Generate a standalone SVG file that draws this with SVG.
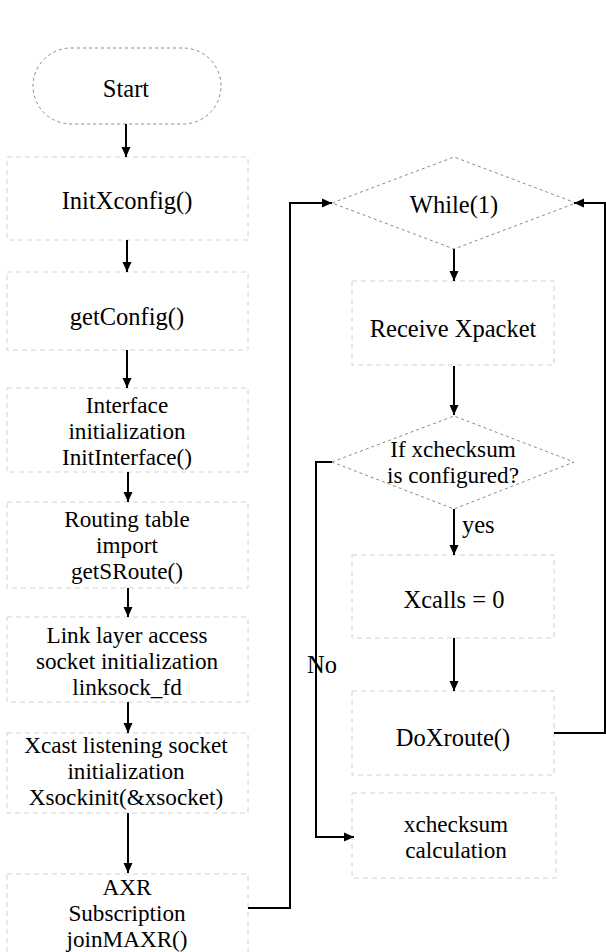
<svg xmlns="http://www.w3.org/2000/svg" width="606" height="952" viewBox="0 0 606 952">
<style>
  text { font-family: "Liberation Serif", "Times New Roman", serif; font-size: 23.2px; fill: #000; text-anchor: middle; }
  .single { font-size: 24.5px; }
  .box { fill: none; stroke: #d2d2d2; stroke-width: 1; stroke-dasharray: 5 4; }
  .dia { fill: none; stroke: #8a8a8a; stroke-width: 1; stroke-dasharray: 3 3; }
  .edge { fill: none; stroke: #000; stroke-width: 2; }
</style>
<defs>
  <marker id="arr" viewBox="0 0 10 10" refX="10" refY="5" markerUnits="userSpaceOnUse" markerWidth="12" markerHeight="10" orient="auto">
    <path d="M0,0.5 L10,5 L0,9.5 z" fill="#000"/>
  </marker>
</defs>
<rect width="606" height="952" fill="#fff"/>

<g id="start">
  <rect x="33" y="48" width="188" height="76" rx="38" ry="38" class="dia"/>
  <text x="126" y="97" class="single">Start</text>
</g>
<g id="initxconfig">
  <rect x="7" y="157" width="241" height="83" class="box"/>
  <text x="127" y="209" class="single">InitXconfig()</text>
</g>
<g id="getconfig">
  <rect x="7" y="272" width="241" height="78" class="box"/>
  <text x="127" y="325" class="single">getConfig()</text>
</g>
<g id="interface">
  <rect x="7" y="388" width="241" height="84" class="box"/>
  <text x="127" y="413">Interface</text>
  <text x="127" y="439">initialization</text>
  <text x="127" y="465">InitInterface()</text>
</g>
<g id="routing">
  <rect x="7" y="502" width="241" height="86" class="box"/>
  <text x="127" y="527">Routing table</text>
  <text x="127" y="553">import</text>
  <text x="127" y="579">getSRoute()</text>
</g>
<g id="linklayer">
  <rect x="7" y="617" width="241" height="85" class="box"/>
  <text x="127" y="643">Link layer access</text>
  <text x="127" y="669">socket initialization</text>
  <text x="127" y="695">linksock_fd</text>
</g>
<g id="xcast">
  <rect x="7" y="733" width="241" height="80" class="box"/>
  <text x="126" y="753">Xcast listening socket</text>
  <text x="126" y="779">initialization</text>
  <text x="126" y="805">Xsockinit(&amp;xsocket)</text>
</g>
<g id="axr">
  <rect x="7" y="874" width="241" height="86" class="box"/>
  <text x="127" y="895">AXR</text>
  <text x="127" y="921">Subscription</text>
  <text x="127" y="947">joinMAXR()</text>
</g>

<g id="while">
  <polygon points="332,203 454,157 576,203 454,249" class="dia"/>
  <text x="454" y="213" class="single">While(1)</text>
</g>
<g id="receive">
  <rect x="352" y="281" width="202" height="84" class="box"/>
  <text x="453" y="337" class="single">Receive Xpacket</text>
</g>
<g id="ifcheck">
  <polygon points="332,462 454,416 574,462 454,509" class="dia"/>
  <text x="453" y="457">If xchecksum</text>
  <text x="453" y="483">is configured?</text>
</g>
<g id="xcalls">
  <rect x="352" y="555" width="202" height="83" class="box"/>
  <text x="454" y="608" class="single">Xcalls = 0</text>
</g>
<g id="doxroute">
  <rect x="352" y="691" width="202" height="84" class="box"/>
  <text x="453" y="746" class="single">DoXroute()</text>
</g>
<g id="checksumcalc">
  <rect x="352" y="793" width="204" height="85" class="box"/>
  <text x="456" y="832">xchecksum</text>
  <text x="456" y="858">calculation</text>
</g>

<g id="connectors">
  <line x1="126" y1="124" x2="126" y2="157" class="edge" marker-end="url(#arr)"/>
  <line x1="127" y1="240" x2="127" y2="272" class="edge" marker-end="url(#arr)"/>
  <line x1="127" y1="350" x2="127" y2="388" class="edge" marker-end="url(#arr)"/>
  <line x1="128" y1="472" x2="128" y2="502" class="edge" marker-end="url(#arr)"/>
  <line x1="128" y1="588" x2="128" y2="617" class="edge" marker-end="url(#arr)"/>
  <line x1="128" y1="702" x2="128" y2="733" class="edge" marker-end="url(#arr)"/>
  <line x1="128" y1="813" x2="128" y2="873" class="edge" marker-end="url(#arr)"/>
  <polyline points="248,908 290,908 290,203 332,203" class="edge" marker-end="url(#arr)"/>
  <line x1="454" y1="249" x2="454" y2="281" class="edge" marker-end="url(#arr)"/>
  <line x1="454" y1="366" x2="454" y2="415" class="edge" marker-end="url(#arr)"/>
  <line x1="454" y1="509" x2="454" y2="555" class="edge" marker-end="url(#arr)"/>
  <text x="462" y="533" class="single" style="text-anchor:start">yes</text>
  <line x1="454" y1="638" x2="454" y2="691" class="edge" marker-end="url(#arr)"/>
  <polyline points="554,733 605,733 605,203 574,203" class="edge" marker-end="url(#arr)"/>
  <polyline points="332,462 316,462 316,837 354,837" class="edge" marker-end="url(#arr)"/>
  <text x="307" y="673" class="single" style="text-anchor:start">No</text>
</g>
</svg>
